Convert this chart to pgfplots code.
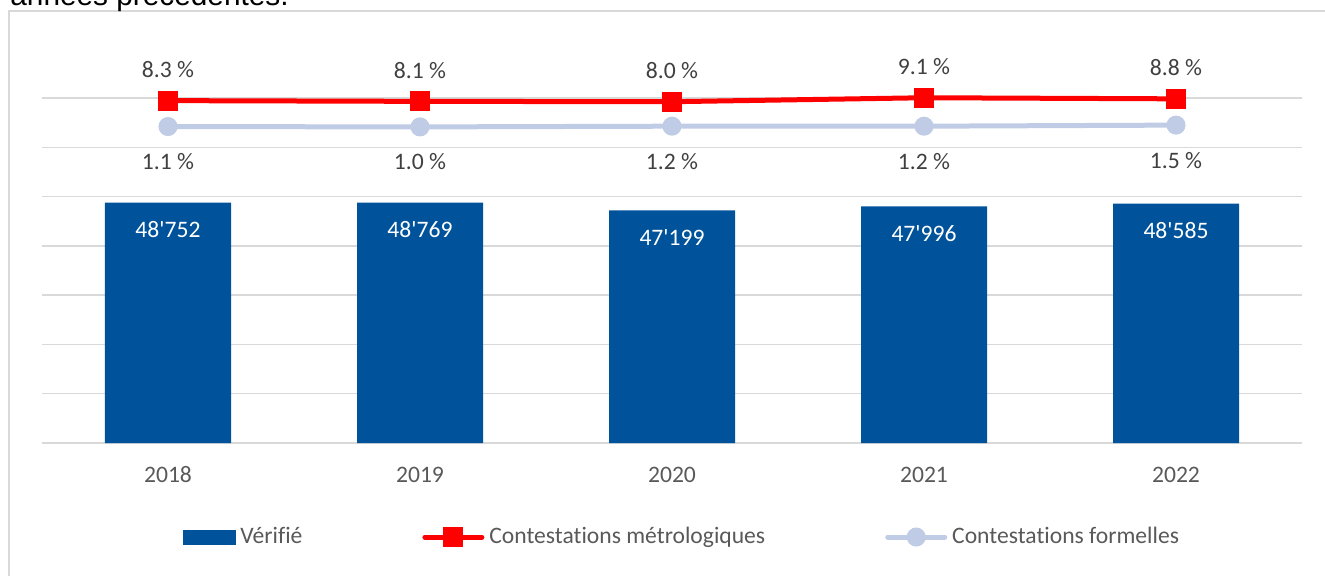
\documentclass[border=0pt]{standalone}
\usepackage{pgfplots}
\pgfplotsset{compat=1.18}
\usepackage{fontspec}
\setmainfont{Carlito}[Ligatures={TeXOff,NoCommon}]
\newfontfamily\arial{Liberation Sans}
\definecolor{BarBlue}{HTML}{00539B}
\definecolor{LineRed}{HTML}{FF0000}
\definecolor{LineBlue}{HTML}{C0CCE5}
\definecolor{GridGray}{HTML}{D9D9D9}
\definecolor{TxtGray}{HTML}{595959}
\definecolor{LblGray}{HTML}{404040}

\begin{document}
\begin{tikzpicture}
\fontsize{11.8}{14}\selectfont
\useasboundingbox (-21pt,-66pt) rectangle (641.5pt,221.5pt);
% frame and cut-off sentence above the chart
\draw[GridGray,line width=0.8pt] (-16.5pt,-80pt) -- (-16.5pt,216pt) -- (660pt,216pt);
\node[anchor=base west,inner sep=0pt,font=\arial\fontsize{14.9}{16}\selectfont] at (-16pt,219pt) {années précédentes.};

\pgfplotsset{base/.style={scale only axis,width=630pt,height=172.5pt,
  xmin=-0.5,xmax=4.5,clip=false,axis line style={draw=none},
  major tick style={draw=none}}}

\begin{axis}[base,ymin=0,ymax=70000,ytick={0,10000,...,70000},yticklabels={},
  scaled y ticks=false,
  ymajorgrids,grid style={GridGray,line width=0.75pt},
  xtick={0,1,2,3,4},xticklabels={2018,2019,2020,2021,2022},
  xticklabel style={anchor=center,yshift=-11.5pt,text=TxtGray},
  ybar,bar width=63pt,
  nodes near coords,point meta=explicit symbolic,
  every node near coord/.append style={anchor=center,yshift=-13.5pt,text=white}]
\addplot[fill=BarBlue,draw=none] coordinates
  {(0,48752)[48'752] (1,48769)[48'769] (2,47199)[47'199] (3,47996)[47'996] (4,48585)[48'585]};
\end{axis}

\begin{axis}[base,ymin=-86.8,ymax=9.03,ytick=\empty,xtick=\empty,
  legend columns=3,
  legend style={at={(0.507,-0.2725)},anchor=center,draw=none,fill=none,
    text=TxtGray,nodes={inner xsep=0pt,inner ysep=1pt},cells={anchor=west},
    /tikz/every odd column/.append style={column sep=2.5pt},
    /tikz/every even column/.append style={column sep=60pt}},
  legend image code/.code={\draw[mark repeat=2,mark phase=2,#1]
    plot coordinates {(0pt,0pt) (14.25pt,0pt) (28.5pt,0pt)};}]
\addlegendimage{legend image code/.code={\fill[BarBlue] (0pt,-3.5pt) rectangle (26pt,3.5pt);}}
\addlegendentry{Vérifié}
\addplot[LineRed,line width=2.5pt,line cap=round,mark=square*,mark size=3.75pt,
  mark options={solid,fill=LineRed,draw=none},
  nodes near coords,point meta=explicit symbolic,
  every node near coord/.append style={anchor=center,yshift=15.5pt,text=LblGray}]
  coordinates {(0,8.3)[8.3 \%] (1,8.1)[8.1 \%] (2,8.0)[8.0 \%] (3,9.1)[9.1 \%] (4,8.8)[8.8 \%]};
\addlegendentry{Contestations métrologiques}
\addplot[LineBlue,line width=2.5pt,line cap=round,mark=*,mark size=3.5pt,
  mark options={solid,fill=LineBlue,draw=none},
  nodes near coords,point meta=explicit symbolic,
  every node near coord/.append style={anchor=center,yshift=-17.5pt,text=LblGray}]
  coordinates {(0,1.1)[1.1 \%] (1,1.0)[1.0 \%] (2,1.2)[1.2 \%] (3,1.2)[1.2 \%] (4,1.5)[1.5 \%]};
\addlegendentry{Contestations formelles}
\end{axis}
\end{tikzpicture}
\end{document}
